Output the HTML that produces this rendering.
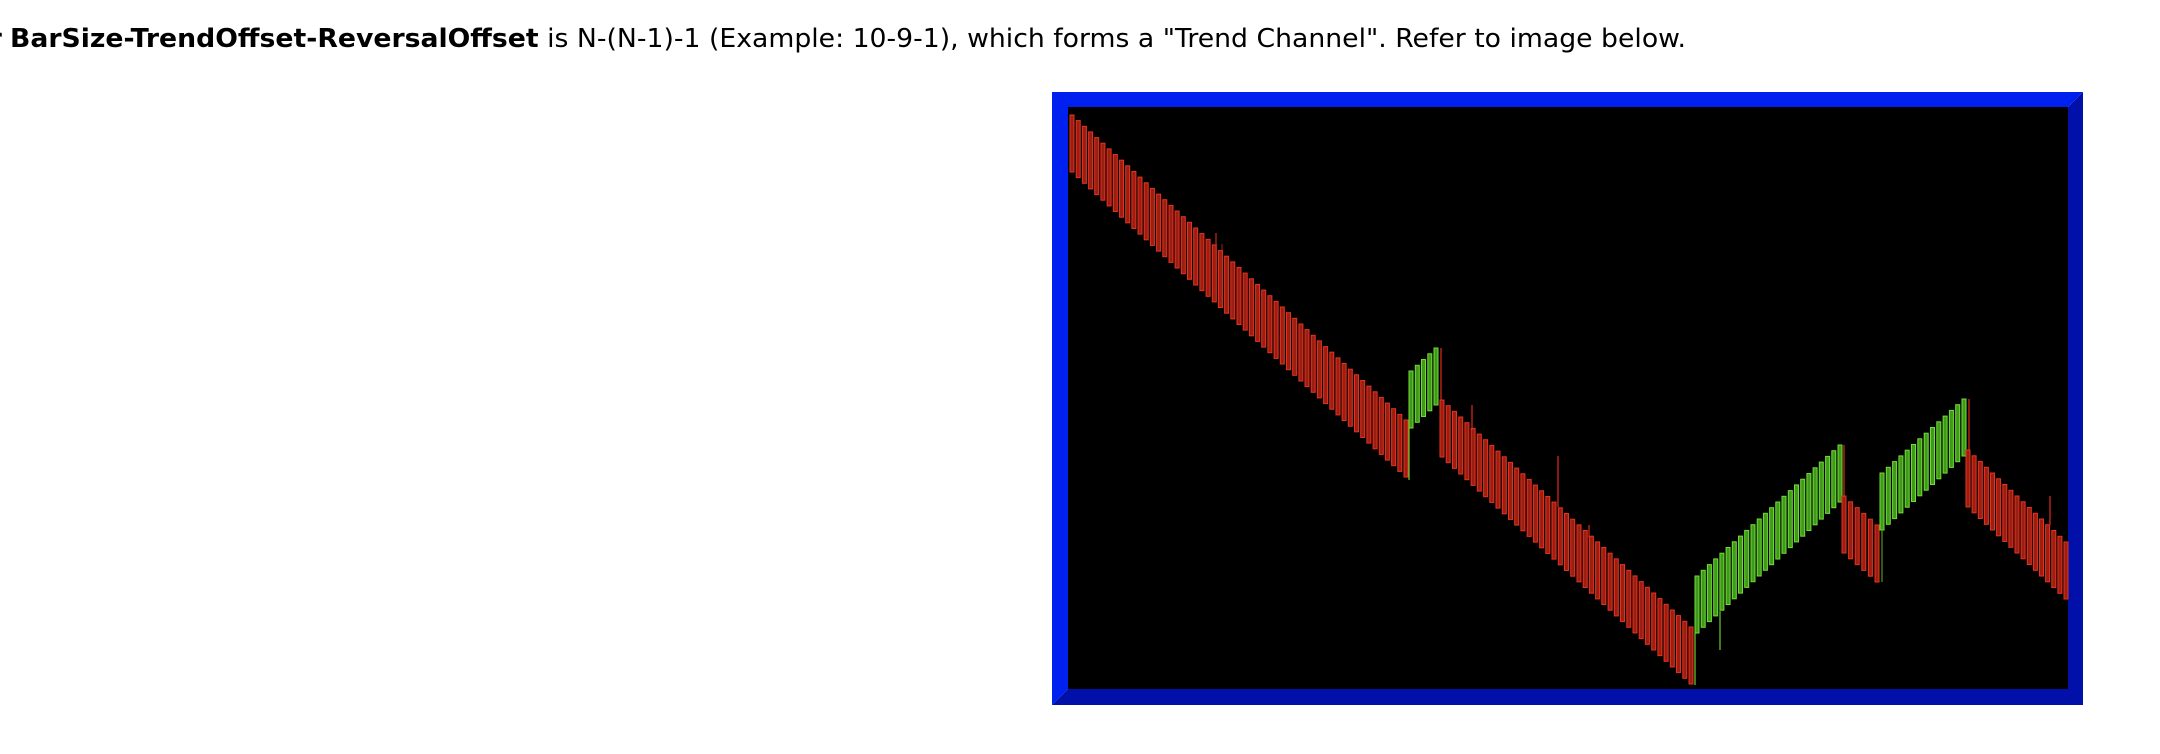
<!DOCTYPE html>
<html><head><meta charset="utf-8"><style>
html,body{margin:0;padding:0;background:#fff;width:2160px;height:754px;overflow:hidden}
svg{display:block}
</style></head><body>
<svg id="s" width="2160" height="754" viewBox="0 0 2160 754" xmlns="http://www.w3.org/2000/svg">
<text x="-11" y="47" font-family="DejaVu Sans, Liberation Sans, sans-serif" font-size="26" font-weight="bold" fill="#000">r</text>
<text x="10" y="47" font-family="DejaVu Sans, Liberation Sans, sans-serif" font-size="26" fill="#000" textLength="1676" lengthAdjust="spacingAndGlyphs"><tspan font-weight="bold">BarSize-TrendOffset-ReversalOffset</tspan> is N-(N-1)-1 (Example: 10-9-1), which forms a "Trend Channel". Refer to image below.</text>
<polygon points="1052,92 2083,92 2068,107 1068,107 1068,689 1052,705" fill="#0020f0"/>
<polygon points="2083,92 2083,705 1052,705 1068,689 2068,689 2068,107" fill="#0010a8"/>
<rect x="1068" y="107" width="1000" height="582" fill="#000"/>
<g id="bars"></g>
</svg>
<script>
var g=document.getElementById('bars');
var segs=[
[1070,1404,115,420,'r'],
[1409,1434,371,348,'g'],
[1440,1689,400,627,'r'],
[1695,1838,576,445,'g'],
[1842,1875,496,525,'r'],
[1880,1962,473,399,'g'],
[1966,2064,450,542,'r']];
var h='';
segs.forEach(function(s){
 var n=Math.round((s[1]-s[0])/6.2)+1;
 for(var i=0;i<n;i++){
  var t=i/(n-1||1);
  var x=s[0]+(s[1]-s[0])*t, y=s[2]+(s[3]-s[2])*t;
  var f=s[4]=='r'?'#9a1e12':'#3f9a1c', st=s[4]=='r'?'#e8321e':'#72dc36';
  var hh=57; if(x+4>2068) continue;
  h+='<rect x="'+x.toFixed(1)+'" y="'+y.toFixed(1)+'" width="4" height="'+hh+'" fill="'+f+'" stroke="'+st+'" stroke-width="1"/>';
 }
});
var w=[[1216,233,250,'#c82a18'],[1222,244,250,'#8a1a10'],[1409,428,480,'#6ad030'],[1441,348,400,'#e02a1a'],[1472,405,430,'#e02a1a'],[1558,456,507,'#e02a1a'],[1589,525,538,'#e02a1a'],[1695,633,685,'#6ad030'],[1720,611,650,'#6ad030'],[1844,445,497,'#e02a1a'],[1882,530,582,'#4a9a20'],[1969,399,450,'#e02a1a'],[2050,496,525,'#e02a1a']];
w.forEach(function(a){h+='<line x1="'+a[0]+'" y1="'+a[1]+'" x2="'+a[0]+'" y2="'+a[2]+'" stroke="'+a[3]+'" stroke-width="1.2"/>';});
g.innerHTML=h;
</script>
</body></html>
